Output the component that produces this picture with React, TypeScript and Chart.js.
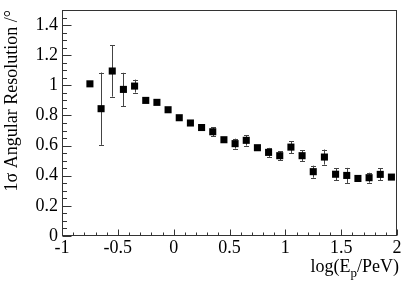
import React, { useEffect, useRef } from "react";
import { Chart, registerables } from "chart.js";

Chart.register(...registerables);

// log(E_p/PeV) bin centres
const xValues = [
  -0.75, -0.65, -0.55, -0.45, -0.35, -0.25, -0.15, -0.05, 0.05, 0.15,
  0.25, 0.35, 0.45, 0.55, 0.65, 0.75, 0.85, 0.95, 1.05, 1.15,
  1.25, 1.35, 1.45, 1.55, 1.65, 1.75, 1.85, 1.95,
];
// 1 sigma angular resolution (degrees)
const yValues = [
  1.01, 0.845, 1.095, 0.973, 0.995, 0.9, 0.887, 0.838, 0.785, 0.75,
  0.72, 0.692, 0.639, 0.613, 0.635, 0.586, 0.555, 0.533, 0.59, 0.533,
  0.427, 0.524, 0.41, 0.402, 0.382, 0.387, 0.409, 0.391,
];
// symmetric errors
const yErrors = [
  0.0, 0.24, 0.17, 0.11, 0.043, 0.0, 0.0, 0.0, 0.0, 0.0,
  0.0, 0.03, 0.0, 0.033, 0.035, 0.0, 0.03, 0.03, 0.04, 0.035,
  0.04, 0.05, 0.04, 0.05, 0.02, 0.033, 0.04, 0.0,
];

const xTitleMain = "log(E";
const xTitleSub = "p";
const xTitleEnd = "/PeV)";
const yTitle = "1σ Angular Resolution /°";

const FONT = "'Liberation Serif', 'DejaVu Serif', serif";

const fmt = (v: any) => String(Math.round(Number(v) * 10) / 10);

const errorBarPlugin = {
  id: "errorBars",
  beforeDatasetsDraw(chart: any) {
    const ctx = chart.ctx;
    const xs = chart.scales.x;
    const ys = chart.scales.y;
    ctx.save();
    ctx.strokeStyle = "#444";
    ctx.lineWidth = 1;
    for (let i = 0; i < xValues.length; i++) {
      const e = yErrors[i];
      if (!e) continue;
      const px = Math.round(xs.getPixelForValue(xValues[i])) + 0.5;
      const top = ys.getPixelForValue(yValues[i] + e);
      const bot = ys.getPixelForValue(yValues[i] - e);
      ctx.beginPath();
      ctx.moveTo(px, top);
      ctx.lineTo(px, bot);
      ctx.moveTo(px - 2.5, Math.round(top) + 0.5);
      ctx.lineTo(px + 2.5, Math.round(top) + 0.5);
      ctx.moveTo(px - 2.5, Math.round(bot) + 0.5);
      ctx.lineTo(px + 2.5, Math.round(bot) + 0.5);
      ctx.stroke();
    }
    ctx.restore();
  },
};

const framePlugin = {
  id: "rootFrame",
  afterDraw(chart: any) {
    const ctx = chart.ctx;
    const a = chart.chartArea;
    const xs = chart.scales.x;
    const ys = chart.scales.y;
    ctx.save();
    ctx.strokeStyle = "#333";
    ctx.lineWidth = 1;
    const L = Math.round(a.left) + 0.5;
    const R = Math.round(a.right) - 0.5;
    const T = Math.round(a.top) + 0.5;
    const B = Math.round(a.bottom) - 0.5;
    ctx.strokeRect(L, T, R - L, B - T);
    ctx.beginPath();
    // x ticks (inside, bottom)
    const xMinorStep = 0.1;
    for (let k = 0; ; k++) {
      const v = xs.min + k * xMinorStep;
      if (v > xs.max + 1e-9) break;
      const major = Math.abs(v / 0.5 - Math.round(v / 0.5)) < 1e-6;
      const px = Math.round(xs.getPixelForValue(v)) + 0.5;
      ctx.moveTo(px, B);
      ctx.lineTo(px, B - (major ? 6 : 3));
    }
    // y ticks (inside, left)
    const yMinorStep = 0.05;
    for (let k = 0; ; k++) {
      const v = ys.min + k * yMinorStep;
      if (v > ys.max + 1e-9) break;
      const major = Math.abs(v / 0.2 - Math.round(v / 0.2)) < 1e-6;
      const py = Math.round(ys.getPixelForValue(v)) + 0.5;
      ctx.moveTo(L, py);
      ctx.lineTo(L + (major ? 9 : 4.5), py);
    }
    ctx.stroke();

    // x-axis title with subscript, right aligned
    ctx.fillStyle = "#000";
    ctx.textBaseline = "alphabetic";
    ctx.textAlign = "left";
    const big = `18px ${FONT}`;
    const small = `13px ${FONT}`;
    ctx.font = big;
    const w1 = ctx.measureText(xTitleMain).width;
    const w3 = ctx.measureText(xTitleEnd).width;
    ctx.font = small;
    const w2 = ctx.measureText(xTitleSub).width;
    const right = 399;
    const base = 272;
    let x0 = right - (w1 + w2 + w3);
    ctx.font = big;
    ctx.fillText(xTitleMain, x0, base);
    x0 += w1;
    ctx.font = small;
    ctx.fillText(xTitleSub, x0, base + 5);
    x0 += w2;
    ctx.font = big;
    ctx.fillText(xTitleEnd, x0, base);
    ctx.restore();
  },
};

export default function App() {
  const ref = useRef<HTMLCanvasElement | null>(null);
  useEffect(() => {
    if (!ref.current) return;
    const points = xValues.map((x, i) => ({ x, y: yValues[i] }));
    const chart = new Chart(ref.current, {
      type: "scatter",
      data: {
        datasets: [
          {
            data: points,
            pointStyle: "rect",
            pointRadius: 5,
            pointHoverRadius: 5,
            backgroundColor: "#000",
            borderColor: "#000",
            borderWidth: 0,
            showLine: false,
          },
        ],
      },
      options: {
        animation: false,
        responsive: false,
        events: [],
        layout: { padding: { top: 10, right: 12, left: 0, bottom: 0 } },
        plugins: {
          legend: { display: false },
          tooltip: { enabled: false },
        },
        scales: {
          x: {
            type: "linear",
            min: -1,
            max: 2,
            grid: { display: false, drawTicks: false },
            border: { display: false },
            ticks: {
              stepSize: 0.5,
              includeBounds: false,
              autoSkip: false,
              maxRotation: 0,
              minRotation: 0,
              padding: 1,
              color: "#000",
              font: { family: FONT, size: 18 },
              callback: fmt,
            },
            afterFit: (s: any) => {
              s.height = 50;
              s.paddingLeft = 0;
              s.paddingRight = 0;
            },
          },
          y: {
            type: "linear",
            min: 0,
            max: 1.5,
            grid: { display: false, drawTicks: false },
            border: { display: false },
            ticks: {
              stepSize: 0.2,
              includeBounds: false,
              autoSkip: false,
              padding: 4,
              color: "#000",
              font: { family: FONT, size: 18 },
              callback: fmt,
            },
            title: {
              display: true,
              text: yTitle,
              align: "end",
              color: "#000",
              font: { family: FONT, size: 18 },
              padding: { top: 1, bottom: 0 },
            },
            afterFit: (s: any) => {
              s.width = 62;
              s.paddingTop = 0;
              s.paddingBottom = 0;
            },
          },
        },
      },
      plugins: [errorBarPlugin, framePlugin],
    } as any);
    return () => chart.destroy();
  }, []);
  return (
    <div style={{ position: "fixed", left: 0, top: 0, width: 409, height: 286, background: "#fff" }}>
      <canvas ref={ref} width={409} height={286} style={{ display: "block" }} />
    </div>
  );
}
